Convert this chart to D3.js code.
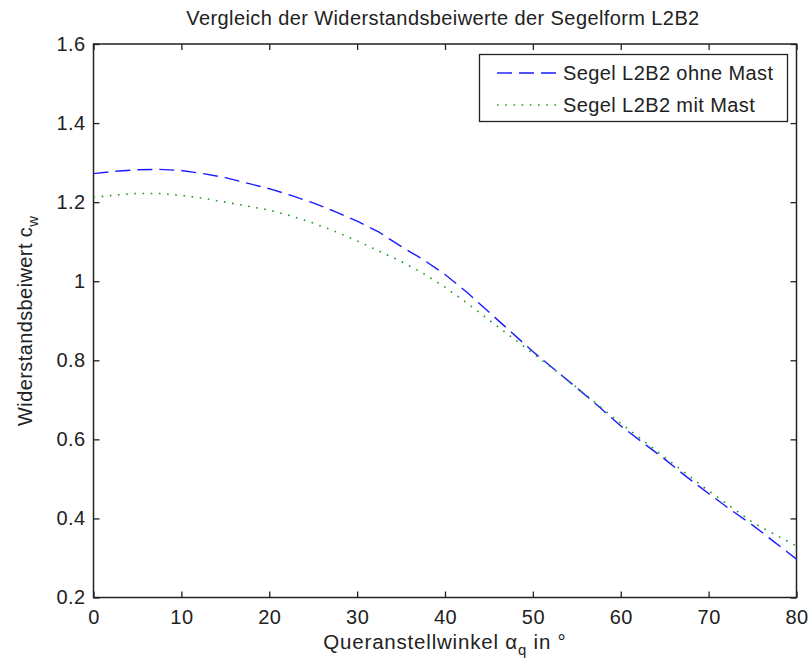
<!DOCTYPE html>
<html>
<head>
<meta charset="utf-8">
<script src="https://cdn.jsdelivr.net/npm/d3@7"></script>
<style>
  html, body { margin: 0; padding: 0; background: #ffffff; }
  svg { display: block; }
  text { font-family: "Liberation Sans", Arial, sans-serif; fill: #222; letter-spacing: 0.4px; }
</style>
</head>
<body>
<svg id="chart" width="810" height="668"></svg>
<script>
// Queranstellwinkel in Grad
const angles = [0, 2.5, 5, 7.5, 10, 12.5, 15, 17.5, 20, 22.5, 25, 27.5, 30, 32.5, 35, 37.5, 40,
                42.5, 45, 47.5, 50, 52.5, 55, 57.5, 60, 62.5, 65, 67.5, 70, 72.5, 75, 77.5, 80];

// Widerstandsbeiwert c_w, Segel L2B2 ohne Mast
const cwOhneMast = [1.272, 1.278, 1.282, 1.283, 1.280, 1.272, 1.262, 1.248, 1.234, 1.217, 1.198,
                    1.176, 1.152, 1.124, 1.088, 1.055, 1.017, 0.972, 0.922, 0.872, 0.822, 0.776,
                    0.730, 0.683, 0.634, 0.592, 0.550, 0.505, 0.463, 0.422, 0.383, 0.340, 0.297];

// Widerstandsbeiwert c_w, Segel L2B2 mit Mast
const cwMitMast = [1.212, 1.218, 1.222, 1.222, 1.217, 1.210, 1.200, 1.190, 1.180, 1.165, 1.147,
                   1.126, 1.102, 1.076, 1.050, 1.020, 0.985, 0.945, 0.902, 0.860, 0.818, 0.775,
                   0.731, 0.686, 0.640, 0.598, 0.555, 0.512, 0.470, 0.430, 0.390, 0.360, 0.330];

const xTicks = [0, 10, 20, 30, 40, 50, 60, 70, 80];
const yTicks = [0.2, 0.4, 0.6, 0.8, 1.0, 1.2, 1.4, 1.6];
const seriesNames = ["Segel L2B2 ohne Mast", "Segel L2B2 mit Mast"];

const svg = d3.select("#chart");
const plotLeft = 93.5, plotRight = 796.5, plotTop = 44, plotBottom = 597.5;
const fontSize = 20;

const x = d3.scaleLinear().domain([0, 80]).range([plotLeft, plotRight]);
const y = d3.scaleLinear().domain([0.2, 1.6]).range([plotBottom, plotTop]);

const fmt = v => (Math.round(v * 10) / 10).toString();
const tickLen = 6;

// Achsen (unten/links mit Beschriftung, oben/rechts nur Striche, Striche nach innen)
const gx = svg.append("g").attr("transform", `translate(0,${plotBottom})`)
  .call(d3.axisBottom(x).tickValues(xTicks).tickFormat(d3.format("d"))
        .tickSizeInner(-tickLen).tickSizeOuter(0).tickPadding(12));
const gxTop = svg.append("g").attr("transform", `translate(0,${plotTop})`)
  .call(d3.axisTop(x).tickValues(xTicks).tickFormat("")
        .tickSizeInner(-tickLen).tickSizeOuter(0));
const gy = svg.append("g").attr("transform", `translate(${plotLeft},0)`)
  .call(d3.axisLeft(y).tickValues(yTicks).tickFormat(fmt)
        .tickSizeInner(-tickLen).tickSizeOuter(0).tickPadding(8));
const gyRight = svg.append("g").attr("transform", `translate(${plotRight},0)`)
  .call(d3.axisRight(y).tickValues(yTicks).tickFormat("")
        .tickSizeInner(-tickLen).tickSizeOuter(0));

[gx, gxTop, gy, gyRight].forEach(g => {
  g.select(".domain").remove();
  g.selectAll("line").attr("stroke", "#222").attr("stroke-width", 1.3);
  g.selectAll("text").attr("font-size", fontSize).attr("fill", "#222")
    .style("font-family", '"Liberation Sans", Arial, sans-serif');
});
gx.selectAll("text").attr("dy", "0.71em");

// Rahmen
svg.append("rect")
  .attr("x", plotLeft).attr("y", plotTop)
  .attr("width", plotRight - plotLeft).attr("height", plotBottom - plotTop)
  .attr("fill", "none").attr("stroke", "#222").attr("stroke-width", 1.5);

// Kurven
const line = d3.line().x(d => x(d[0])).y(d => y(d[1]));

svg.append("path")
  .datum(angles.map((a, i) => [a, cwOhneMast[i]]))
  .attr("d", line)
  .attr("fill", "none").attr("stroke", "#1a1aff").attr("stroke-width", 1.4)
  .attr("stroke-dasharray", "15,7");

svg.append("path")
  .datum(angles.map((a, i) => [a, cwMitMast[i]]))
  .attr("d", line)
  .attr("fill", "none").attr("stroke", "#1f9a1f").attr("stroke-width", 1.6)
  .attr("stroke-dasharray", "1.6,6.6");

// Titel
svg.append("text")
  .attr("x", (plotLeft + plotRight) / 2 - 2).attr("y", 25)
  .attr("text-anchor", "middle").attr("font-size", fontSize)
  .text("Vergleich der Widerstandsbeiwerte der Segelform L2B2");

// x-Achsenbeschriftung
const xl = svg.append("text")
  .attr("x", (plotLeft + plotRight) / 2).attr("y", 649)
  .attr("text-anchor", "middle").attr("font-size", 20.5)
  .style("letter-spacing", "0.8px");
xl.append("tspan").text("Queranstellwinkel ");
xl.append("tspan").text("α");
xl.append("tspan").attr("font-size", 15).attr("dy", 6).text("q");
xl.append("tspan").attr("dy", -6).text(" in °");

// y-Achsenbeschriftung
const yl = svg.append("text")
  .attr("transform", `translate(32,${(plotTop + plotBottom) / 2}) rotate(-90)`)
  .attr("text-anchor", "middle").attr("font-size", fontSize);
yl.append("tspan").text("Widerstandsbeiwert c");
yl.append("tspan").attr("font-size", 15).attr("dy", 6).text("w");

// Legende
const lg = svg.append("g");
lg.append("rect")
  .attr("x", 479.5).attr("y", 54.5).attr("width", 308).attr("height", 67)
  .attr("fill", "#fff").attr("stroke", "#222").attr("stroke-width", 1.3);
const legendStyles = [
  { stroke: "#1a1aff", dash: "15,7", width: 1.4 },
  { stroke: "#1f9a1f", dash: "1.6,6.6", width: 1.6 }
];
seriesNames.forEach((name, i) => {
  const cy = 73 + i * 32;
  lg.append("line")
    .attr("x1", 497).attr("x2", 558).attr("y1", cy).attr("y2", cy)
    .attr("stroke", legendStyles[i].stroke).attr("stroke-width", legendStyles[i].width)
    .attr("stroke-dasharray", legendStyles[i].dash);
  lg.append("text")
    .attr("x", 563).attr("y", cy).attr("dy", "0.35em")
    .attr("font-size", fontSize).text(name);
});
</script>
</body>
</html>
